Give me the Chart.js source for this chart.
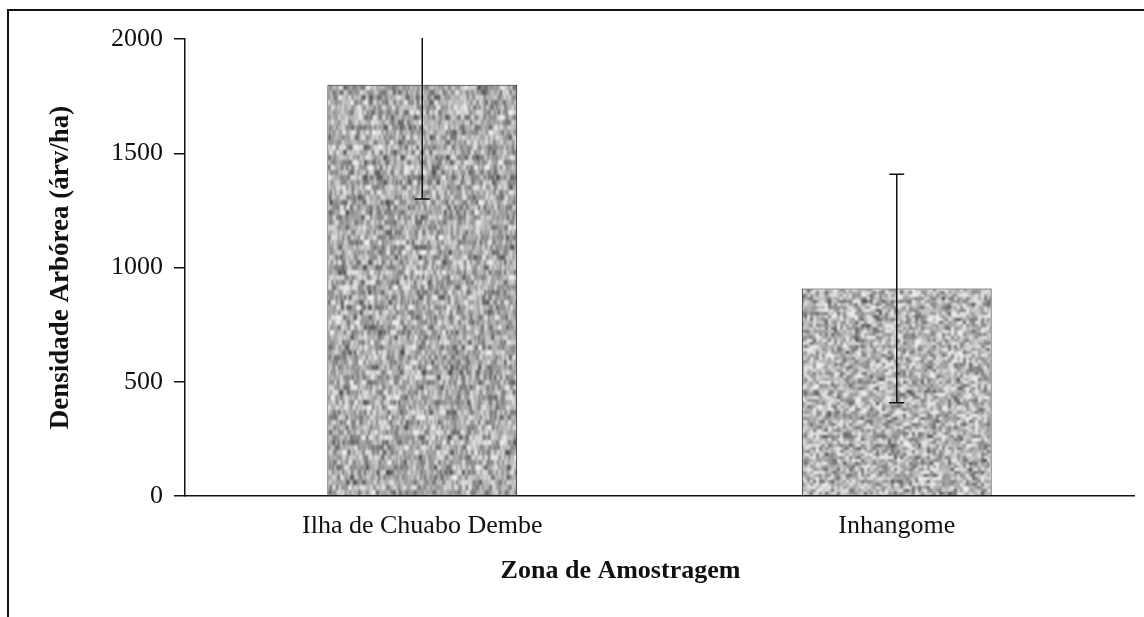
<!DOCTYPE html>
<html>
<head>
<meta charset="utf-8">
<script src="https://cdn.jsdelivr.net/npm/chart.js@4"></script>
<style>
  body { margin: 0; background: #fff; }
  #wrap { position: relative; width: 1144px; height: 617px; }
  #frame { position: absolute; left: 7px; top: 9px; right: 0; bottom: 0;
           border-top: 2px solid #111; border-left: 2px solid #111; }
  #densChart { position: absolute; left: 0; top: 0; }
</style>
</head>
<body>
<div id="wrap">
  <div id="frame"></div>
  <canvas id="densChart" width="1144" height="617"></canvas>
</div>
<script>
const zonas = ["Ilha de Chuabo Dembe", "Inhangome"];
const densidade = [1800, 908];
const desvio = [500, 500];
const yTicks = [0, 500, 1000, 1500, 2000];

const serif = "'Liberation Serif', 'Times New Roman', serif";

// grey speckle texture for the bars (fixed seed so it looks the same every run)
function speckle(cw, ch, seed, base, spread, blur) {
  const w = 240, h = 480;
  const big = document.createElement("canvas");
  big.width = w * 3; big.height = h * 3;
  const g = big.getContext("2d");
  let s = seed;
  const rnd = () => (s = (s * 1664525 + 1013904223) >>> 0) / 4294967296;
  for (let y = 0; y < h; y += ch) {
    for (let x = 0; x < w; x += cw) {
      let v = base + (rnd() + rnd() + rnd() - 1.5) * spread;
      v = Math.max(50, Math.min(240, Math.round(v)));
      g.fillStyle = `rgb(${v},${v},${v})`;
      for (let tx = 0; tx < 3; tx++)
        for (let ty = 0; ty < 3; ty++)
          g.fillRect(x + tx * w, y + ty * h, cw, ch);
    }
  }
  // blur the 3x3 tiling once and keep the middle tile, so it repeats without seams
  const out = document.createElement("canvas");
  out.width = w; out.height = h;
  const g2 = out.getContext("2d");
  g2.filter = `blur(${blur}px)`;
  g2.drawImage(big, -w, -h);
  return out;
}

const errorBars = {
  id: "errorBars",
  afterDatasetsDraw(chart) {
    const { ctx, chartArea, scales } = chart;
    const meta = chart.getDatasetMeta(0);
    ctx.save();
    ctx.beginPath();
    ctx.rect(chartArea.left, chartArea.top - 1, chartArea.right - chartArea.left, chartArea.bottom - chartArea.top + 1);
    ctx.clip();
    ctx.strokeStyle = "#111";
    ctx.lineWidth = 1.5;
    meta.data.forEach((bar, i) => {
      const top = scales.y.getPixelForValue(densidade[i] + desvio[i]);
      const bot = scales.y.getPixelForValue(densidade[i] - desvio[i]);
      const x = bar.x;
      ctx.beginPath();
      ctx.moveTo(x, top); ctx.lineTo(x, bot);
      ctx.moveTo(x - 7.5, top); ctx.lineTo(x + 7.5, top);
      ctx.moveTo(x - 7.5, bot); ctx.lineTo(x + 7.5, bot);
      ctx.stroke();
    });
    ctx.restore();
  }
};

window.onload = () => {
  const ctx = document.getElementById("densChart").getContext("2d");
  const tex1 = ctx.createPattern(speckle(2, 5, 12345, 172, 95, 1.1), "repeat");
  const tex2 = ctx.createPattern(speckle(3, 3, 67890, 180, 90, 0.9), "repeat");

  new Chart(ctx, {
    type: "bar",
    data: {
      labels: zonas,
      datasets: [{
        data: densidade,
        backgroundColor: [tex1, tex2],
        borderColor: "#222",
        borderWidth: 1,
        categoryPercentage: 1,
        barPercentage: 0.4
      }]
    },
    options: {
      responsive: false,
      animation: false,
      layout: { padding: { top: 39, right: 10, left: 0, bottom: 0 } },
      plugins: { legend: { display: false }, tooltip: { enabled: false } },
      scales: {
        x: {
          afterFit: s => { s.height = 121; },
          grid: { display: false },
          border: { display: true, color: "#111", width: 1.5 },
          ticks: { color: "#111", padding: 7, font: { family: serif, size: 26 } },
          title: {
            display: true,
            text: "Zona de Amostragem" + "\u00a0".repeat(12),
            color: "#111",
            padding: { top: 0, bottom: 30 },
            font: { family: serif, size: 26, weight: "bold" }
          }
        },
        y: {
          min: 0,
          max: 2000,
          afterFit: s => { s.width = 185; },
          afterBuildTicks: s => { s.ticks = yTicks.map(v => ({ value: v })); },
          grid: { drawOnChartArea: false, drawTicks: true, tickLength: 11, color: "#111", lineWidth: 1.5 },
          border: { display: true, color: "#111", width: 1.5 },
          ticks: {
            color: "#111",
            padding: 11,
            font: { family: serif, size: 26 },
            callback: v => String(v)
          },
          title: {
            display: true,
            text: "Densidade Arbórea (árv/ha)",
            color: "#111",
            padding: { top: 45, bottom: 0 },
            font: { family: serif, size: 27, weight: "bold" }
          }
        }
      }
    },
    plugins: [errorBars]
  });
};
</script>
</body>
</html>
